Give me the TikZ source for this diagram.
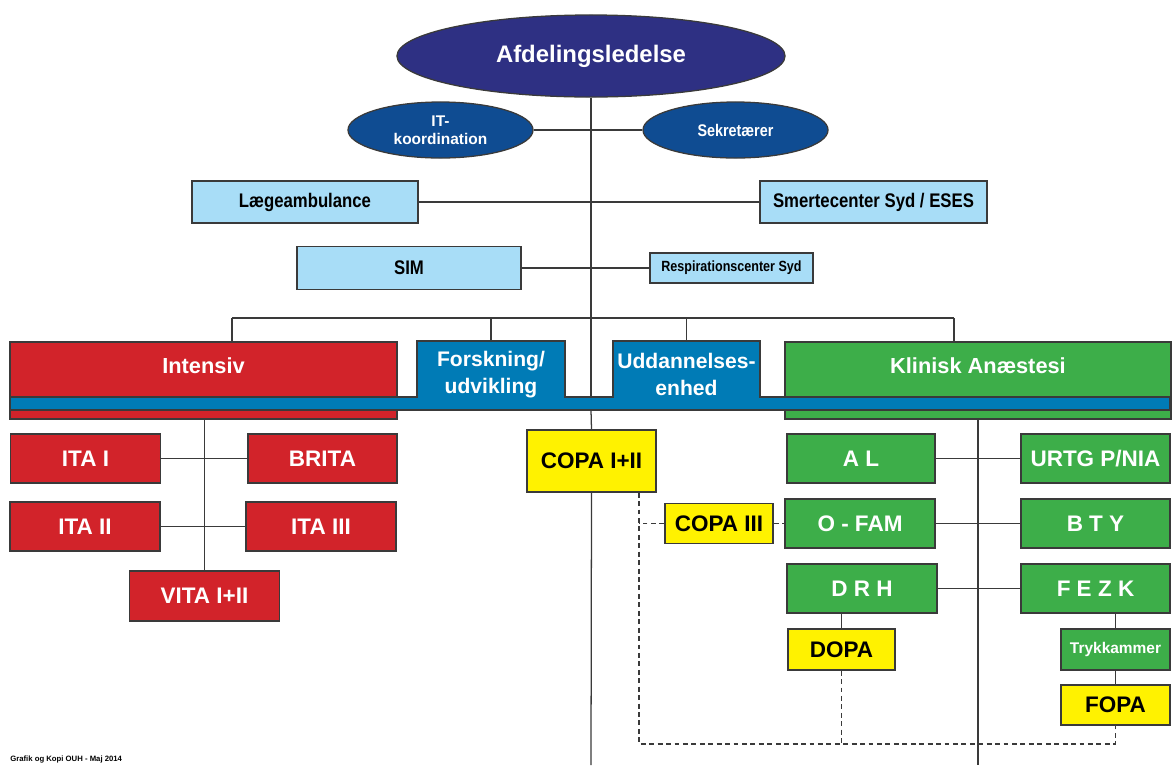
\documentclass[tikz,border=0pt]{standalone}
\usepackage{fontspec}
\setmainfont{Liberation Sans}
\newfontfamily\narrowfont[FakeStretch=0.85]{Liberation Sans}
\usetikzlibrary{shapes, positioning}
\definecolor{navy}{HTML}{2E3083}
\definecolor{itblue}{HTML}{0F4C92}
\definecolor{lblue}{HTML}{A8DDF7}
\definecolor{ouhred}{HTML}{D2232A}
\definecolor{tabblue}{HTML}{007BB6}
\definecolor{ouhgreen}{HTML}{3DAE49}
\definecolor{ouhyellow}{HTML}{FFF200}
\definecolor{edge}{HTML}{3A3A3A}
\tikzstyle{box} = [rectangle, draw=edge, line width=0.9pt, inner sep=0pt, minimum width=3.75cm, minimum height=1.225cm, font=\bfseries\fontsize{16}{18}\selectfont]
\tikzstyle{rbox} = [box, fill=ouhred, text=white]
\tikzstyle{gbox} = [box, fill=ouhgreen, text=white]
\tikzstyle{ybox} = [box, fill=ouhyellow, text=black]
\tikzstyle{lbox} = [box, fill=lblue, text=black, minimum height=1.05cm, font=\narrowfont\bfseries\fontsize{14}{16}\selectfont]
\tikzstyle{oval} = [ellipse, draw=edge, line width=0.9pt, inner sep=0pt, text=white, align=center, font=\bfseries\fontsize{11}{12.5}\selectfont]
\tikzstyle{tab} = [inner sep=0pt, minimum width=3.7cm, minimum height=1.675cm, text=white, align=center, font=\bfseries\fontsize{15}{19}\selectfont]
\tikzstyle{head} = [inner sep=0pt, text=white, font=\bfseries\fontsize{15.5}{18}\selectfont]
\tikzstyle{line} = [draw=edge, line width=0.9pt]
\tikzstyle{dline} = [line, dash pattern=on 3.5pt off 2.5pt]

\begin{document}
\begin{tikzpicture}[x=0.025cm, y=-0.025cm]
			\useasboundingbox (0,0) rectangle (1172,765);
			% top
			\node [oval, fill=navy, minimum width=9.7cm, minimum height=2.05cm, font=\bfseries\fontsize{17}{20}\selectfont] (afd) at (591,56) {Afdelingsledelse};
			\node [oval, fill=itblue, minimum width=4.625cm, minimum height=1.4cm] (itk) at (440.5,130) {IT-\\koordination};
			\node [oval, fill=itblue, minimum width=4.625cm, minimum height=1.4cm, font=\narrowfont\bfseries\fontsize{12}{13}\selectfont] (sek) at (735.5,130) {Sekretærer};
			\node [lbox, minimum width=5.65cm] (laege) at (305,202) {Lægeambulance};
			\node [lbox, minimum width=5.675cm] (smerte) at (873.5,202) {Smertecenter Syd / ESES};
			\node [lbox, minimum width=5.6cm, minimum height=1.075cm] (sim) at (409,268) {SIM};
			\node [lbox, minimum width=4.075cm, minimum height=0.75cm, font=\narrowfont\bfseries\fontsize{10.5}{12}\selectfont] (resp) at (731.5,268) {Respirationscenter Syd};
			
			% afdelinger
			\node [rbox, minimum width=9.675cm, minimum height=1.925cm] (intensiv) at (203.5,380.5) {};
			\node [gbox, minimum width=9.65cm, minimum height=1.925cm] (klinisk) at (978,380.5) {};
			\path [draw=edge, line width=0.9pt, fill=tabblue] (10,397) -- (417,397) -- (417,341) -- (565,341) -- (565,397) -- (613,397) -- (613,341) -- (760,341) -- (760,397) -- (1170,397) -- (1170,410) -- (10,410) -- cycle;
			\node [head] (intensivtxt) at (203.5,366) {Intensiv};
			\node [head] (kliniktxt) at (978,366) {Klinisk Anæstesi};
			\node [tab] (forsk) at (491,374.5) {Forskning/\\udvikling};
			\node [tab] (udd) at (686.5,374.5) {Uddannelses-\\enhed};
			\coordinate (hl) at (232,318);
			\coordinate (hr) at (954,318);
			\coordinate (bartop) at (591,397);
			\coordinate (barbot) at (591,410);
			\coordinate (bottom) at (591,765);
			
			% intensiv
			\node [rbox] (ita1) at (85.5,458.5) {ITA I};
			\node [rbox, minimum width=3.725cm] (brita) at (322.5,458.5) {BRITA};
			\node [rbox] (ita2) at (85,526.5) {ITA II};
			\node [rbox] (ita3) at (321,526.5) {ITA III};
			\node [rbox, minimum height=1.25cm] (vita) at (204.5,596) {VITA I+II};
			
			% copa
			\node [ybox, minimum width=3.225cm, minimum height=1.55cm] (copa12) at (591.5,461) {COPA I+II};
			\node [ybox, minimum width=2.7cm, minimum height=1cm] (copa3) at (719,523.5) {COPA III};
			
			% klinisk anaestesi
			\node [gbox, minimum width=3.7cm] (al) at (861,458.5) {A L};
			\node [gbox, minimum width=3.725cm] (urtg) at (1095.5,458.5) {URTG P/NIA};
			\node [gbox] (ofam) at (860,523.5) {O - FAM};
			\node [gbox, minimum width=3.725cm] (bty) at (1095.5,523.5) {B T Y};
			\node [gbox] (drh) at (862,588.5) {D R H};
			\node [gbox, minimum width=3.725cm] (fezk) at (1095.5,588.5) {F E Z K};
			\node [ybox, minimum width=2.675cm, minimum height=1.025cm] (dopa) at (841.5,649.5) {DOPA};
			\node [gbox, minimum width=2.725cm, minimum height=1.025cm, font=\bfseries\fontsize{11}{12}\selectfont] (tryk) at (1115.5,649.5) {Trykkammer};
			\node [ybox, minimum width=2.725cm, minimum height=1cm] (fopa) at (1115.5,705) {FOPA};
			\coordinate (dl) at (639,744);
			
			\node [anchor=west, inner sep=0pt, font=\bfseries\fontsize{5.5}{6}\selectfont] (footer) at (10,760) {Grafik og Kopi OUH - Maj 2014};
			
			\path [line] (afd.south) -- (bartop);
			\path [line] (barbot) -- (copa12.north);
			\path [line] (copa12.south) -- (bottom);
			\path [line] (itk.east) -- (sek.west);
			\path [line] (laege.east) -- (smerte.west);
			\path [line] (sim.east) -- (resp.west);
			\path [line] (hl) -- (hr);
			\path [line] (hl) -- (hl |- intensiv.north);
			\path [line] (forsk.north) -- (forsk.north |- hl);
			\path [line] (udd.north) -- (udd.north |- hl);
			\path [line] (hr) -- (hr |- klinisk.north);
			\path [line] (vita.north |- intensiv.south) -- (vita.north);
			\path [line] (ita1.east) -- (brita.west);
			\path [line] (ita2.east) -- (ita3.west);
			\path [line] (klinisk.south) -- (klinisk.south |- bottom);
			\path [line] (al.east) -- (urtg.west);
			\path [line] (ofam.east) -- (bty.west);
			\path [line] (drh.east) -- (fezk.west);
			\path [line] (dopa.north) -- (dopa.north |- drh.south);
			\path [line] (tryk.north) -- (tryk.north |- fezk.south);
			\path [line] (tryk.south) -- (fopa.north);
			\path [dline] (copa12.south -| dl) -- (dl) -| (fopa.south);
			\path [dline] (dopa.south) -- (dopa.south |- dl);
			\path [dline] (copa3.west) -- (copa3.west -| dl);
			\path [dline] (copa3.east) -- (ofam.west);
		\end{tikzpicture}
\end{document}
